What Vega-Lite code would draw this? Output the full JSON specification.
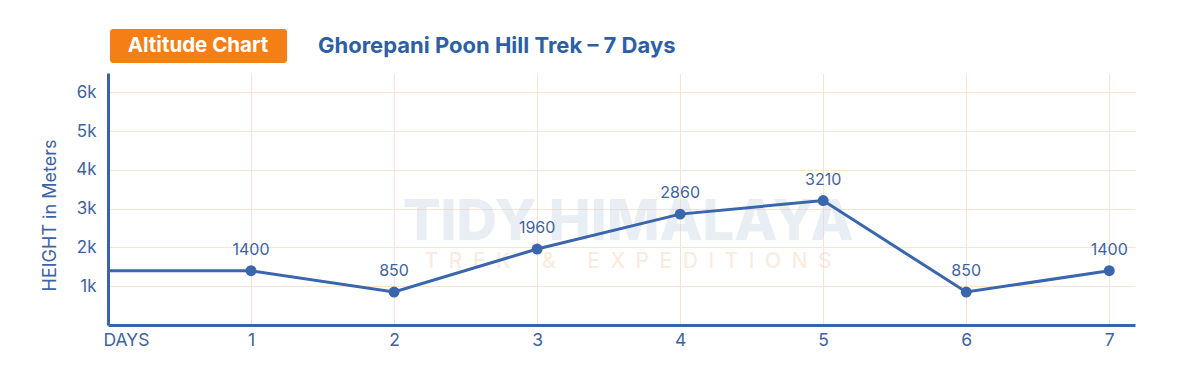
{
  "$schema": "https://vega.github.io/schema/vega-lite/v6.json",
  "width": 1027,
  "height": 252,
  "autosize": {"type": "none"},
  "padding": {"left": 108, "top": 73, "right": 65, "bottom": 49},
  "background": "white",
  "config": {"font": "Inter", "view": {"stroke": null}},
  "title": {
    "text": "Ghorepani Poon Hill Trek – 7 Days",
    "anchor": "start",
    "frame": "group",
    "dx": 210,
    "dy": 43,
    "offset": 14,
    "fontSize": 22,
    "fontWeight": "bold",
    "color": "#2d5fa6",
    "font": "Inter"
  },
  "datasets": {
    "trek": [
      {"day": 0, "height": 1400},
      {"day": 1, "height": 1400},
      {"day": 2, "height": 850},
      {"day": 3, "height": 1960},
      {"day": 4, "height": 2860},
      {"day": 5, "height": 3210},
      {"day": 6, "height": 850},
      {"day": 7, "height": 1400}
    ],
    "badge": [
      {"day": 0.014, "day2": 1.252, "height": 6758, "height2": 7635, "text_day": 0.629, "text_height": 7196, "label": "Altitude Chart"}
    ],
    "watermark": [
      {"day": 3.636, "height": 2192, "label": "TIDY HIMALAYA", "kind": "main"},
      {"day": 3.636, "height": 1470, "label": "T\u2002R\u2002E\u2002K\u2003\u2002&\u2003\u2002E\u2002X\u2002P\u2002E\u2002D\u2002I\u2002T\u2002I\u2002O\u2002N\u2002S", "kind": "sub"}
    ]
  },
  "encoding": {
    "x": {
      "field": "day",
      "type": "quantitative",
      "scale": {"domain": [0, 7.18], "nice": false, "zero": false},
      "axis": {
        "values": [0, 1, 2, 3, 4, 5, 6, 7],
        "labelExpr": "datum.value === 0 ? 'DAYS' : datum.label",
        "labelAlign": {"expr": "datum.value === 0 ? 'left' : 'center'"},
        "labelOffset": {"expr": "datum.value === 0 ? -5 : 0"},
        "title": null,
        "grid": true,
        "gridColor": "#fbe3d1",
        "gridWidth": 1,
        "domainColor": "#3b64a8",
        "domainWidth": 3,
        "ticks": false,
        "labelColor": "#3d63a3",
        "labelFontSize": 17.5,
        "labelFont": "Inter",
        "labelPadding": 6,
        "labelFlush": false,
        "labelOverlap": false
      }
    },
    "y": {
      "field": "height",
      "type": "quantitative",
      "scale": {"domain": [0, 6500], "nice": false},
      "axis": {
        "values": [1000, 2000, 3000, 4000, 5000, 6000],
        "labelExpr": "(datum.value / 1000) + 'k'",
        "title": "HEIGHT in Meters",
        "titleFontWeight": "normal",
        "titleFontSize": 18,
        "titleColor": "#3d63a3",
        "titleFont": "Inter",
        "titleX": -58,
        "titleY": 142,
        "titleBaseline": "middle",
        "grid": true,
        "gridColor": "#fbe3d1",
        "gridWidth": 1,
        "domainColor": "#3b64a8",
        "domainWidth": 3,
        "ticks": false,
        "labelColor": "#3d63a3",
        "labelFontSize": 17,
        "labelFont": "Inter",
        "labelPadding": 12
      }
    }
  },
  "layer": [
    {
      "data": {"name": "watermark"},
      "transform": [{"filter": "datum.kind === 'main'"}],
      "mark": {"type": "text", "fontSize": 56, "fontWeight": 800, "font": "Inter", "color": "#c9d3e6", "opacity": 0.4, "align": "center", "baseline": "alphabetic"},
      "encoding": {"text": {"field": "label"}}
    },
    {
      "data": {"name": "watermark"},
      "transform": [{"filter": "datum.kind === 'sub'"}],
      "mark": {"type": "text", "fontSize": 21, "fontWeight": 500, "font": "Inter", "color": "#f6cfae", "opacity": 0.4, "align": "center", "baseline": "alphabetic"},
      "encoding": {"text": {"field": "label"}}
    },
    {
      "data": {"name": "badge"},
      "mark": {"type": "rect", "color": "#f57f17", "cornerRadius": 3},
      "encoding": {
        "x2": {"field": "day2"},
        "y2": {"field": "height2"}
      }
    },
    {
      "data": {"name": "badge"},
      "mark": {"type": "text", "color": "white", "fontSize": 20.5, "fontWeight": "bold", "font": "Inter", "align": "center", "baseline": "middle"},
      "encoding": {
        "x": {"field": "text_day", "type": "quantitative"},
        "y": {"field": "text_height", "type": "quantitative"},
        "text": {"field": "label"}
      }
    },
    {
      "data": {"name": "trek"},
      "mark": {"type": "line", "color": "#3a66ad", "strokeWidth": 3}
    },
    {
      "data": {"name": "trek"},
      "transform": [{"filter": "datum.day > 0"}],
      "mark": {"type": "circle", "color": "#3a66ad", "size": 120, "opacity": 1}
    },
    {
      "data": {"name": "trek"},
      "transform": [{"filter": "datum.day > 0"}],
      "mark": {"type": "text", "color": "#3d63a3", "fontSize": 16, "font": "Inter", "align": "center", "baseline": "middle", "dy": -21},
      "encoding": {"text": {"field": "height", "type": "quantitative", "format": "d"}}
    }
  ]
}
